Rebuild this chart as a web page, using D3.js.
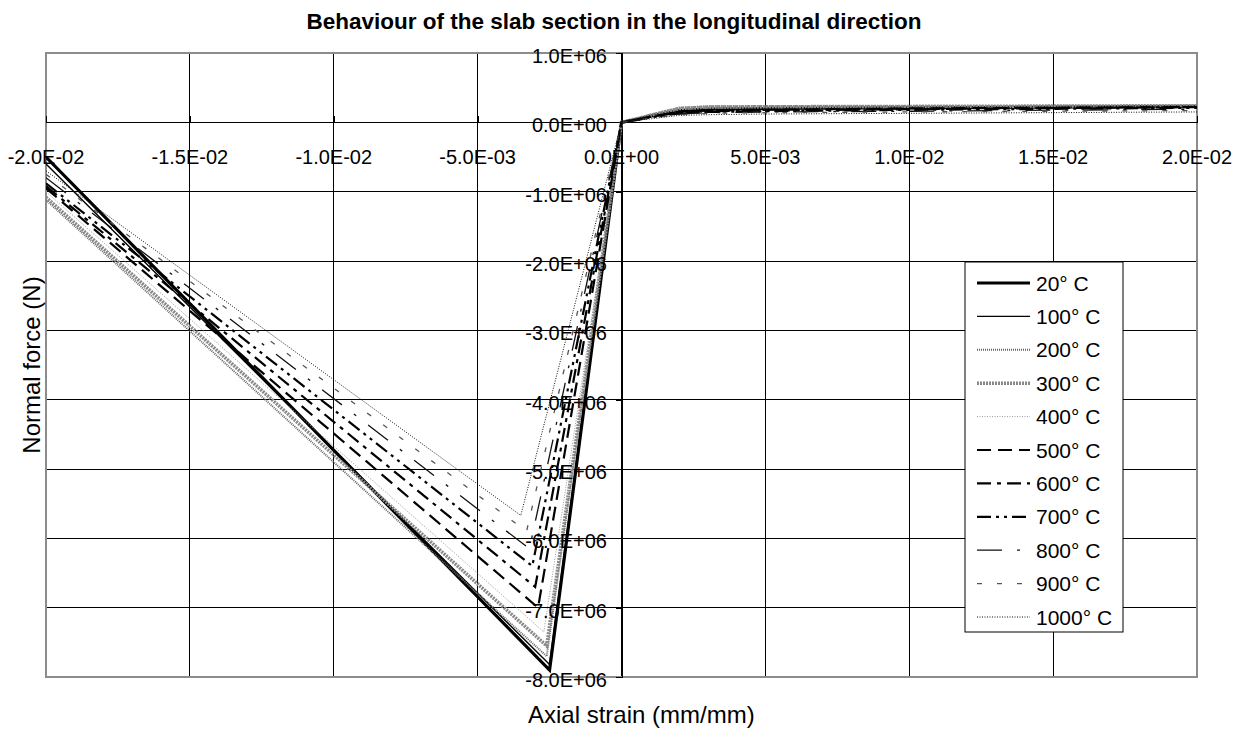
<!DOCTYPE html>
<html>
<head>
<meta charset="utf-8">
<script src="https://cdn.jsdelivr.net/npm/d3@7"></script>
<style>
  html, body { margin: 0; padding: 0; background: #fff; }
  text { font-family: "Liberation Sans", Arial, sans-serif; fill: #000; }
</style>
</head>
<body>
<svg id="chart" width="1245" height="729"></svg>
<script>
// Series: slab section axial response at each temperature
const temperatures = [20, 100, 200, 300, 400, 500, 600, 700, 800, 900, 1000];
const seriesLabels = ["20° C", "100° C", "200° C", "300° C", "400° C", "500° C",
                      "600° C", "700° C", "800° C", "900° C", "1000° C"];

// Compression branch: start of the curve, peak, and origin
const startStrain = -0.02;
const startForce = [-0.50e6, -0.60e6, -1.12e6, -1.08e6, -1.00e6, -0.95e6,
                    -0.92e6, -0.88e6, -0.80e6, -0.75e6, -0.70e6];
const peakStrain = [-0.0025, -0.0025, -0.0026, -0.0026, -0.0027, -0.0029,
                    -0.0030, -0.0031, -0.0032, -0.0033, -0.0035];
const peakForce = [-7.90e6, -7.82e6, -7.70e6, -7.55e6, -7.35e6, -7.00e6,
                   -6.70e6, -6.40e6, -6.15e6, -5.90e6, -5.67e6];

// Tension branch
const tensionStrain = [0.0005, 0.001, 0.002, 0.003, 0.005, 0.01, 0.02];
const tensionForce = [
  [0.04e6, 0.09e6, 0.17e6, 0.19e6, 0.20e6, 0.21e6, 0.23e6],
  [0.04e6, 0.09e6, 0.17e6, 0.19e6, 0.20e6, 0.21e6, 0.22e6],
  [0.05e6, 0.11e6, 0.21e6, 0.23e6, 0.235e6, 0.235e6, 0.24e6],
  [0.05e6, 0.10e6, 0.20e6, 0.22e6, 0.225e6, 0.23e6, 0.24e6],
  [0.04e6, 0.09e6, 0.18e6, 0.20e6, 0.21e6, 0.21e6, 0.22e6],
  [0.04e6, 0.08e6, 0.15e6, 0.17e6, 0.18e6, 0.20e6, 0.22e6],
  [0.04e6, 0.08e6, 0.14e6, 0.16e6, 0.17e6, 0.19e6, 0.22e6],
  [0.03e6, 0.07e6, 0.13e6, 0.15e6, 0.16e6, 0.18e6, 0.21e6],
  [0.03e6, 0.06e6, 0.12e6, 0.14e6, 0.15e6, 0.16e6, 0.19e6],
  [0.03e6, 0.06e6, 0.11e6, 0.13e6, 0.14e6, 0.15e6, 0.17e6],
  [0.03e6, 0.05e6, 0.10e6, 0.11e6, 0.12e6, 0.13e6, 0.15e6]
];

// Axis ticks
const xTicks = [-0.02, -0.015, -0.01, -0.005, 0, 0.005, 0.01, 0.015, 0.02];
const xTickLabels = ["-2.0E-02", "-1.5E-02", "-1.0E-02", "-5.0E-03", "0.0E+00",
                     "5.0E-03", "1.0E-02", "1.5E-02", "2.0E-02"];
const yTicks = [1e6, 0, -1e6, -2e6, -3e6, -4e6, -5e6, -6e6, -7e6, -8e6];
const yTickLabels = ["1.0E+06", "0.0E+00", "-1.0E+06", "-2.0E+06", "-3.0E+06",
                     "-4.0E+06", "-5.0E+06", "-6.0E+06", "-7.0E+06", "-8.0E+06"];

// Line styles per temperature
const styles = [
  { stroke: "#000", width: 3.2, dash: null },
  { stroke: "#000", width: 1.4, dash: null },
  { stroke: "#666", width: 2, dash: "1,1" },
  { stroke: "#888", width: 3.5, dash: "2,1" },
  { stroke: "#999", width: 1, dash: "1,1.5" },
  { stroke: "#000", width: 2.2, dash: "14,7" },
  { stroke: "#000", width: 2.2, dash: "14,6,4,6" },
  { stroke: "#000", width: 2.2, dash: "14,5,3,5,3,5" },
  { stroke: "#111", width: 1.3, dash: "25,15,3,15" },
  { stroke: "#555", width: 1.3, dash: "5,15" },
  { stroke: "#111", width: 1, dash: "1,1.5" }
];

const svg = d3.select("#chart");
const plot = { left: 46, right: 1197, top: 53, bottom: 677 };

const x = d3.scaleLinear().domain([-0.02, 0.02]).range([plot.left, plot.right]);
const y = d3.scaleLinear().domain([-8e6, 1e6]).range([plot.bottom, plot.top]);

svg.append("rect").attr("width", 1245).attr("height", 729).attr("fill", "#fff");

// Gridlines
const grid = svg.append("g");
grid.selectAll("line.v").data(xTicks).join("line")
  .attr("x1", d => x(d)).attr("x2", d => x(d))
  .attr("y1", plot.top).attr("y2", plot.bottom)
  .attr("stroke", "#000").attr("stroke-width", 1).attr("shape-rendering", "crispEdges");
grid.selectAll("line.h").data(yTicks).join("line")
  .attr("x1", plot.left).attr("x2", plot.right)
  .attr("y1", d => y(d)).attr("y2", d => y(d))
  .attr("stroke", "#000").attr("stroke-width", 1).attr("shape-rendering", "crispEdges");

// Plot frame
svg.append("rect")
  .attr("x", plot.left).attr("y", plot.top)
  .attr("width", plot.right - plot.left).attr("height", plot.bottom - plot.top)
  .attr("fill", "none").attr("stroke", "#8c8c8c").attr("stroke-width", 2);

// Axes crossing at the origin
const xAxis = d3.axisTop(x).tickValues(xTicks).tickSize(6).tickFormat("");
const yAxis = d3.axisLeft(y).tickValues(yTicks).tickSize(6).tickFormat("");
svg.append("g").attr("transform", `translate(0,${y(0)})`).call(xAxis)
  .call(g => g.selectAll("path,line").attr("stroke", "#000").attr("shape-rendering", "crispEdges"));
svg.append("g").attr("transform", `translate(${x(0)},0)`).call(yAxis)
  .call(g => g.selectAll("path,line").attr("stroke", "#000").attr("shape-rendering", "crispEdges"));

// Curves
svg.append("clipPath").attr("id", "plot-clip").append("rect")
  .attr("x", plot.left).attr("y", plot.top)
  .attr("width", plot.right - plot.left).attr("height", plot.bottom - plot.top);

const line = d3.line().x(d => x(d[0])).y(d => y(d[1]));
const curves = temperatures.map((t, i) => {
  const pts = [[startStrain, startForce[i]], [peakStrain[i], peakForce[i]], [0, 0]];
  tensionStrain.forEach((s, j) => pts.push([s, tensionForce[i][j]]));
  return pts;
});

const curveGroup = svg.append("g").attr("clip-path", "url(#plot-clip)");
curves.forEach((pts, i) => {
  const st = styles[i];
  curveGroup.append("path")
    .attr("d", line(pts))
    .attr("fill", "none")
    .attr("stroke", st.stroke)
    .attr("stroke-width", st.width)
    .attr("stroke-dasharray", st.dash)
    .attr("stroke-linejoin", "miter");
});

// Tick labels
svg.append("g").selectAll("text").data(xTicks).join("text")
  .attr("x", d => x(d)).attr("y", 164)
  .attr("text-anchor", "middle").attr("font-size", 20)
  .text((d, i) => xTickLabels[i]);
svg.append("g").selectAll("text").data(yTicks).join("text")
  .attr("x", 607).attr("y", d => y(d) + 10)
  .attr("text-anchor", "end").attr("font-size", 20)
  .text((d, i) => yTickLabels[i]);

// Titles
svg.append("text").attr("x", 614).attr("y", 29)
  .attr("text-anchor", "middle").attr("font-size", 22.5).attr("font-weight", "bold")
  .text("Behaviour of the slab section in the longitudinal direction");
svg.append("text").attr("x", 528).attr("y", 723)
  .attr("text-anchor", "start").attr("font-size", 24)
  .text("Axial strain (mm/mm)");
svg.append("text")
  .attr("transform", `translate(40,${(plot.top + plot.bottom) / 2}) rotate(-90)`)
  .attr("text-anchor", "middle").attr("font-size", 24)
  .text("Normal force (N)");

// Legend
const legend = svg.append("g");
legend.append("rect")
  .attr("x", 965).attr("y", 262).attr("width", 158).attr("height", 370)
  .attr("fill", "#fff").attr("stroke", "#000").attr("stroke-width", 1);
const rowH = 33.4;
temperatures.forEach((t, i) => {
  const cy = 283 + i * rowH;
  const st = styles[i];
  legend.append("line")
    .attr("x1", 977).attr("x2", 1030).attr("y1", cy).attr("y2", cy)
    .attr("stroke", st.stroke).attr("stroke-width", st.width)
    .attr("stroke-dasharray", st.dash);
  legend.append("text")
    .attr("x", 1036).attr("y", cy + 7.5)
    .attr("font-size", 21)
    .text(seriesLabels[i]);
});
</script>
</body>
</html>
